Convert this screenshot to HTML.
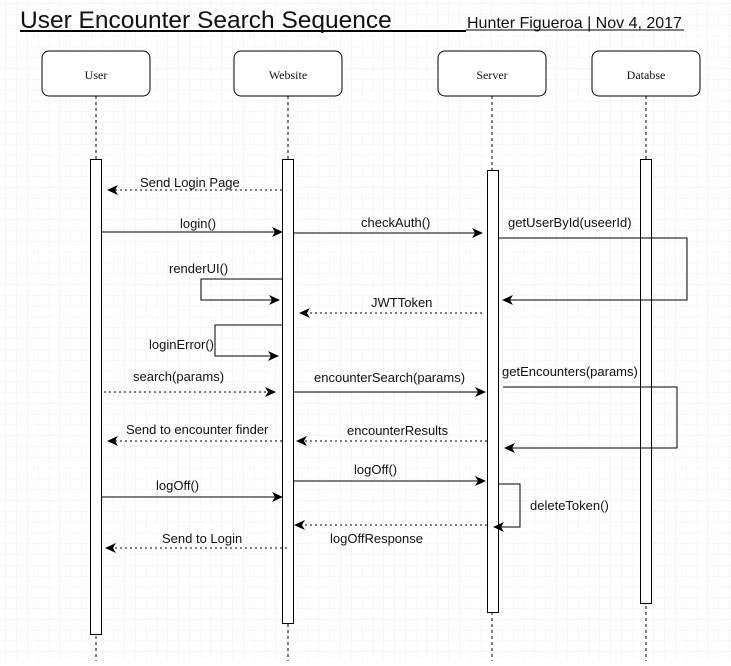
<!DOCTYPE html>
<html><head><style>
body{margin:0;background:#fff}
svg text{font-family:"Liberation Sans",sans-serif;font-size:13px;fill:#111}
</style></head><body>
<svg width="731" height="661" xmlns="http://www.w3.org/2000/svg">
<defs>
<pattern id="g" width="10.8" height="10.8" patternUnits="userSpaceOnUse" x="6" y="4">
<path d="M10.8 0V10.8H0" fill="none" stroke="#ececec" stroke-width="1"/>
</pattern>
<marker id="a" markerWidth="11" markerHeight="10" refX="10" refY="5" orient="auto" markerUnits="userSpaceOnUse">
<path d="M0,0 L11,5 L0,10 L3,5z" fill="#000"/>
</marker>
</defs>
<rect width="731" height="661" fill="url(#g)"/>
<text x="20" y="28" style="font-size:24.5px">User Encounter Search Sequence</text>
<line x1="20" y1="31" x2="466" y2="31" stroke="#000" stroke-width="2"/>
<text x="467" y="28" style="font-size:16px">Hunter Figueroa | Nov 4, 2017</text>
<line x1="466" y1="30" x2="684" y2="30" stroke="#000" stroke-width="1"/>
<g fill="#fff" stroke="#000">
<rect x="42" y="51" width="108" height="45" rx="7"/>
<rect x="234" y="51" width="108" height="45" rx="7"/>
<rect x="438" y="51" width="108" height="45" rx="7"/>
<rect x="592" y="51" width="108" height="45" rx="7"/>
</g>
<g text-anchor="middle">
<text x="96" y="79" style="font-family:'Liberation Serif',serif;font-size:12px">User</text>
<text x="288" y="79" style="font-family:'Liberation Serif',serif;font-size:12px">Website</text>
<text x="492" y="79" style="font-family:'Liberation Serif',serif;font-size:12px">Server</text>
<text x="646" y="79" style="font-family:'Liberation Serif',serif;font-size:12px">Databse</text>
</g>
<g stroke="#000" stroke-dasharray="3,3">
<line x1="96" y1="96" x2="96" y2="661"/>
<line x1="288" y1="96" x2="288" y2="661"/>
<line x1="492" y1="96" x2="492" y2="661"/>
<line x1="646" y1="96" x2="646" y2="661"/>
</g>
<g fill="#fff" stroke="#000">
<rect x="90.5" y="159.5" width="11" height="475"/>
<rect x="282.5" y="159.5" width="11" height="464"/>
<rect x="487.5" y="170.5" width="11" height="442"/>
<rect x="640.5" y="159.5" width="11" height="444"/>
</g>
<g stroke="#000" fill="none">
<line x1="282" y1="190" x2="108" y2="190" stroke-dasharray="2,3" marker-end="url(#a)"/>
<line x1="101" y1="232" x2="282" y2="232" marker-end="url(#a)"/>
<line x1="293" y1="233" x2="482" y2="233" marker-end="url(#a)"/>
<polyline points="282,279 201,279 201,300 279,300" marker-end="url(#a)"/>
<polyline points="498,238 687,238 687,300 503,300" marker-end="url(#a)"/>
<line x1="482" y1="313" x2="300" y2="313" stroke-dasharray="2,3" marker-end="url(#a)"/>
<polyline points="282,325 215,325 215,356 278,356" marker-end="url(#a)"/>
<line x1="104" y1="392" x2="275" y2="392" stroke-dasharray="2,3" marker-end="url(#a)"/>
<line x1="293" y1="392" x2="485" y2="392" marker-end="url(#a)"/>
<polyline points="503,387 677,387 677,448 505,448" marker-end="url(#a)"/>
<line x1="487" y1="441" x2="297" y2="441" stroke-dasharray="2,3" marker-end="url(#a)"/>
<line x1="282" y1="441" x2="108" y2="441" stroke-dasharray="2,3" marker-end="url(#a)"/>
<line x1="293" y1="481" x2="485" y2="481" marker-end="url(#a)"/>
<line x1="101" y1="497" x2="282" y2="497" marker-end="url(#a)"/>
<polyline points="498,484 520,484 520,527 494,527" marker-end="url(#a)"/>
<line x1="487" y1="525" x2="295" y2="525" stroke-dasharray="2,3" marker-end="url(#a)"/>
<line x1="287" y1="548" x2="106" y2="548" stroke-dasharray="2,3" marker-end="url(#a)"/>
</g>
<text x="140" y="187">Send Login Page</text>
<text x="180" y="228">login()</text>
<text x="361" y="227">checkAuth()</text>
<text x="508" y="227">getUserById(useerId)</text>
<text x="169" y="273">renderUI()</text>
<text x="371" y="307">JWTToken</text>
<text x="149" y="349">loginError()</text>
<text x="133" y="381">search(params)</text>
<text x="314" y="382">encounterSearch(params)</text>
<text x="502" y="376">getEncounters(params)</text>
<text x="126" y="434">Send to encounter finder</text>
<text x="347" y="435">encounterResults</text>
<text x="354" y="474">logOff()</text>
<text x="156" y="490">logOff()</text>
<text x="530" y="510">deleteToken()</text>
<text x="162" y="543">Send to Login</text>
<text x="330" y="543">logOffResponse</text>
</svg>
</body></html>
